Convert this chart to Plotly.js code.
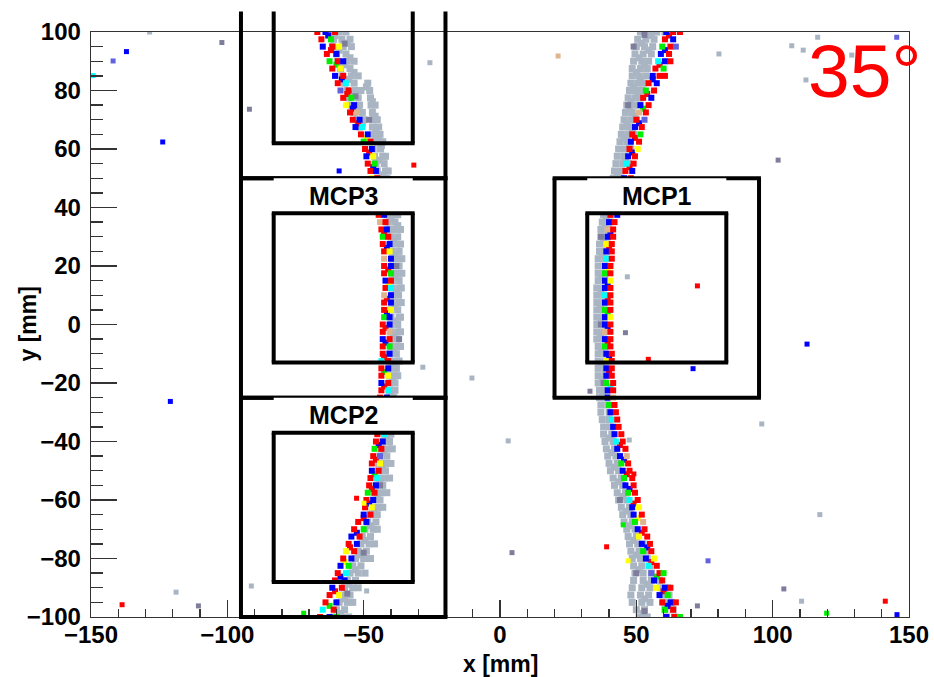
<!DOCTYPE html>
<html>
<head>
<meta charset="utf-8">
<script src="https://cdn.plot.ly/plotly-3.0.1.min.js"></script>
<style>html,body{margin:0;padding:0;background:#fff;}#chart{width:934px;height:677px;}</style>
</head>
<body>
<div id="chart"></div>
<script>
// ---------------- data ----------------
const xRange = [-150, 150];
const yRange = [-100, 100];
const xTickVals = [-150, -100, -50, 0, 50, 100, 150];
const yTickVals = [-100, -80, -60, -40, -20, 0, 20, 40, 60, 80, 100];
const angleLabel = '35°';
const xTitle = 'x [mm]';
const yTitle = 'y [mm]';

// shared y rows (mm) for the two tracks
const rowY = [100,97.5,95,92.5,90,87.5,85,82.5,80,77.5,75,72.5,70,67.5,65,62.5,60,57.5,55,52.5,50,47.5,45,42.5,40,37.5,35,32.5,30,27.5,25,22.5,20,17.5,15,12.5,10,7.5,5,2.5,0,-2.5,-5,-7.5,-10,-12.5,-15,-17.5,-20,-22.5,-25,-27.5,-30,-32.5,-35,-37.5,-40,-42.5,-45,-47.5,-50,-52.5,-55,-57.5,-60,-62.5,-65,-67.5,-70,-72.5,-75,-77.5,-80,-82.5,-85,-87.5,-90,-92.5,-95,-97.5,-100];

// left track, grey band (x per row)
const leftGrayX = [[-62,-59,-56.5],[-61,-58,-55],[-61.5,-57.5,-54.5],[-60,-56.5],[-59.5,-56,-53.5],[-58.5,-55],[-58,-54.5,-52],[-57,-53.5,-48.5],[-56,-53,-51,-47.8],[-55.5,-52,-47.5],[-54.5,-51.5,-47.3,-45.8],[-53.5,-50.5,-46.8],[-52.5,-50,-46.5,-45],[-51.5,-46.8,-44.5],[-46,-44],[-47,-44.5,-43],[-46.5,-43.8],[-46,-43,-42],[-45.5,-42.5],[-45,-42,-41],[-44.5,-41.5],[-44,-41],[-43.5,-40.5],[-43,-40],[-42.5,-39.5],[-41.5,-39,-37.5],[-41,-38.5],[-40.5,-38,-36.5],[-40,-37.5],[-40,-38,-36.5],[-39.5,-37],[-39.5,-37.5,-36],[-39.5,-37],[-39.5,-37.5,-36],[-39.5,-37],[-39.5,-37,-36.2],[-39.5,-37.2],[-39.5,-37,-36.2],[-40,-37.5],[-40,-37,-36.5],[-40,-37.5],[-40,-37.5,-36.5],[-40.2,-37.8],[-40,-37.5,-36.5],[-40.5,-38],[-40.5,-38,-37],[-40.5,-38],[-40.5,-38.5,-37.5],[-40.5,-38.5],[-40.5,-38.5],[-41,-39],[-41,-39],[-41.5,-39.5],[-41.5,-39.5],[-42,-40],[-42.5,-40],[-43,-40.5],[-43.5,-41,-39.5],[-44,-41.5],[-44.5,-42,-40],[-44.5,-42],[-45,-42.5,-40.5],[-45.5,-43],[-46,-43.5,-41.5],[-46.5,-44],[-47,-44.5,-43],[-47.5,-45],[-48.5,-45.5],[-49.5,-46.5,-45],[-50.5,-47.5],[-51,-48,-46],[-52,-49],[-53,-50,-47.5],[-54,-51],[-55,-52,-49.5],[-56,-53],[-57,-54,-52],[-58,-55],[-59,-56,-54],[-60,-57],[-61,-58,-55.5]];

// right track, grey band (x per row)
const rightGrayX = [[51.5,54.5,57.5,60.5],[50.5,53.5,56.5],[50,53,56],[49.5,52.5,55.5],[49,52,54.5],[48.5,51.5,54],[48.5,51,53.5],[48,50.5,52.5],[47.5,50,52],[47,49.5,51.5],[46.5,49,51],[46,48.5],[45.5,48,50],[45,47.5],[44.5,47,49],[44,46.5],[43.5,46,48],[43,45.5],[42.5,45,47],[42,44.5],[41.5,44],[41,43.5],[40.5,43],[40,42.5],[39,41.5],[38,40.5],[37.5,40],[37,39.5],[37,39.5],[36.5,39],[36.5,39],[36,38.5],[36,38.5],[36,38.5],[36,38.5],[35.5,38],[35.5,38],[35.5,38],[35.5,38],[35.5,38],[35.5,38],[35.5,38],[35.5,38],[36,38.5],[36,38.5],[36,38.5],[36,38.5],[36,38.5],[36,38.5],[36.5,39],[36.5,39],[37,39.5],[37,40],[37.5,40],[38,40.5],[38,41],[38.5,41.5],[39,42],[39.5,42.5],[40,43],[40.5,43.5],[41.5,44.5],[42,45],[43,46],[43.5,46.5],[44.5,47.5],[45,48],[45.5,48.5],[46.5,49.5],[47,50],[47.5,50.5,52.5],[48,51,53.5],[48.5,51.5,54],[49,52,55],[49.5,52.5,55.5],[49,52.5,55.5,58.5],[48.5,52,55,59,61.5],[48,51.5,54.5,59.5,62],[48.5,52,55,60,63],[50,53,60.5,63.5],[51,54,61,64]];

// extra grey hits between the rows
const extraGrayX = [-60.5,-56,-59,-55,-57,-53.5,-55.5,-49,-53.5,-46.8,-52,-45.8,-50.5,-45.5,-45,-43.5,-44.5,-43,-40,-37.5,-39,-38.5,-38.5,-38,-38.5,-38.5,-39,-39,-39.5,-39.5,-40,-41.5,-42.5,-43,-44,-45,-46,-47.5,-49.5,-51.5,-53,-55.5,-57,-58.5,
  55.5,52,54.5,51,53,50,51.5,49,50.5,48,47.5,49.5,46.5,48.5,45.5,47.5,46,43,39,38.5,38,37.5,37,37,36.8,36.8,36.8,37.2,37.2,37.5,37.8,40,41,42,43.5,45,46.5,47.5,49,50,51,54,53,52.5,60.5,61.5];
const extraGrayY = [98.8,96.2,93.8,91.2,88.8,86.2,83.8,81.2,78.8,76.2,73.8,71.2,68.8,66.2,63.8,61.2,56.2,51.2,36.2,33.8,28.8,23.8,16.2,11.2,6.2,1.2,-3.8,-8.8,-13.8,-18.8,-23.8,-38.8,-43.8,-48.8,-53.8,-58.8,-63.8,-68.8,-73.8,-78.8,-83.8,-88.8,-93.8,-98.8,
  98.8,96.2,93.8,91.2,88.8,86.2,83.8,81.2,78.8,76.2,73.8,71.2,68.8,66.2,63.8,61.2,56.2,51.2,36.2,33.8,28.8,23.8,16.2,11.2,6.2,1.2,-3.8,-8.8,-13.8,-18.8,-23.8,-38.8,-43.8,-48.8,-53.8,-58.8,-63.8,-68.8,-73.8,-78.8,-83.8,-88.8,-93.8,-98.8,-91.2,-96.2];

// left track, coloured hits (x per row) and their colour codes
const leftHitX = [[-67,-64,-60.5],[-65.5,-62],[-65,-61.5,-59],[-63.5,-60],[-62.5,-59.5,-57.5],[-61.5,-58.5],[-60.5,-57.5],[-59.5,-56.5],[-58.5,-55.5],[-57.5,-54.5],[-56.5,-53.5],[-55,-52.5],[-54,-51.5],[-53,-50.5],[-51,-48.5],[-50,-47.5],[-49.5,-47],[-49,-46.5],[-48.5,-46],[-47.5,-45.5],[-47,-45],[-46.5,-44.5],[-46,-44],[-45.5,-43.5],[-45,-43],[-44.5,-42.5],[-44,-42],[-43.5,-41.5],[-43,-41],[-43,-40.5],[-42.5,-40.5],[-42.5,-40],[-42.5,-40],[-42.5,-40],[-42,-40],[-42,-40],[-42.5,-40],[-42.5,-40],[-42.5,-40],[-42.5,-40.5],[-43,-40.5],[-43,-40.5],[-43,-40.5],[-43,-40.5],[-43,-40.5],[-43.5,-41],[-43.5,-41],[-43.5,-41],[-43.5,-41],[-43.5,-41],[-44,-41.5],[-44,-41.5],[-44.5,-42],[-44.5,-42],[-45,-42.5],[-45,-42.5],[-45.5,-43],[-46,-43.5],[-46.5,-44],[-47,-44],[-47,-44.5],[-47.5,-45],[-48,-45.5],[-48.5,-46],[-49,-46.5],[-49.5,-47],[-50,-47.5],[-52,-49],[-53.5,-50],[-54.5,-51.5],[-55.5,-52.5],[-56.5,-53.5],[-57.5,-54.5],[-58.5,-55.5],[-59.5,-56.5],[-60.5,-57],[-61.5,-58],[-62.5,-59],[-64,-60],[-65,-61],[-66,-62.5,-60]];
const leftHitC = ["RBR","RG","BRY","RB","GRB","RY","BR","RC","PR","RG","YB","RT","RB","BC","RB","GR","RB","BY","RG","RB","YR","BR","RB","GR","RC","RB","TR","RB","GR","RB","RY","TB","RB","RG","BR","RC","TB","RB","RY","GB","RB","RT","BR","RG","RB","CR","RB","RY","BR","RC","RB","GR","RB","RY","BR","RC","RB","GR","RP","RY","BR","RC","RB","GR","RB","RY","BR","RB","RG","BR","RB","YR","RB","BG","RC","RB","BR","RY","RB","CR","RBG"];

// right track, coloured hits (x per row) and their colour codes
const rightHitX = [[61,63.5,66],[60.5,63.5],[59.5,62.5,64.5],[59,62],[58,60.5,62.5],[57,60],[56,58.5,60.5],[54.5,57.5],[53.5,56.5],[52.5,55.5],[51.5,54.5],[51,53.5],[50,53],[49.5,52],[48.5,51.5],[48,51],[47.5,50.5],[47,49.5],[46.5,49],[46,48.5],[45.5,48],[45,47.5],[44,46.5],[43,45.5],[41.5,44],[40.5,43],[40,42],[39.5,41.5],[39.5,41.5],[39,41],[39,41],[39,41],[38.5,40.5],[38.5,40.5],[38.5,40.5],[38.5,40.5],[38.5,40.5],[38.5,40.5],[38.5,40.5],[38.5,40.5],[38.5,40.5],[38.5,40.5],[38.5,40.5],[38.5,40.5],[39,41],[39,41],[39,41],[39,41],[39,41.5],[39.5,41.5],[39.5,41.5],[40,42],[40.5,42.5],[41,43],[41.5,43.5],[42,44.5],[42.5,45],[43,46],[44,46.5],[44.5,47],[45,47.5],[45.5,48.5],[46,49],[47,49.5],[47.5,50.5],[48.5,51],[49,52],[49.5,52.5],[50.5,53],[51,54],[52,55],[52.5,55.5],[53.5,56.5],[54.5,57.5],[55.5,58.5,60],[56.5,59.5],[57.5,60.5,62.5],[58.5,61.5],[59.5,62.5,64.5],[60.5,63.5],[61,64,66]];
const rightHitC = ["BRR","RB","GRP","BR","CBR","RG","BRR","RB","GR","RB","BR","TR","RP","BR","RG","BR","RY","BR","CR","RB","BR","RG","BR","RB","BR","RB","BR","TR","BR","YR","BR","CR","BR","GR","BY","BR","CR","BR","GR","BY","BR","TR","BR","GR","BR","YR","BR","BR","GR","BR","BT","GR","BR","CR","BR","BR","CR","BR","BT","GR","BR","GR","BR","GR","CR","BY","BR","GT","BR","YR","BR","GR","BY","CR","PRG","BR","YBR","BG","RBR","GR","BRG"];

// extra coloured hits between the rows
const extraHitX = [-63,-62,-60,-58,-56,-54,-52,-49,-48,-46.5,-42.5,-41.5,-41,-41,-41.5,-41.5,-42,-42,-42.5,-42.5,-42.5,-44.5,-45.5,-46,-47,-48,-50,-52.5,-55,-57,-58.5,-60.5,-62.5,62,60.5,58.5,56,54,52.5,51,49.5,48.5,47.5,40.5,40,39.5,39.5,39.5,39.5,39.5,39.5,40,40,40.5,44,45.5,46.5,47.5,49,50.5,52,54,55.5,57.5,60,61.5];
const extraHitY = [98.8,93.8,88.8,83.8,78.8,73.8,68.8,63.8,58.8,53.8,31.2,26.2,18.8,13.8,8.8,3.8,-1.2,-6.2,-11.2,-16.2,-21.2,-41.2,-46.2,-51.2,-56.2,-61.2,-66.2,-71.2,-76.2,-81.2,-86.2,-91.2,-96.2,98.8,93.8,88.8,83.8,78.8,73.8,68.8,63.8,58.8,53.8,31.2,26.2,18.8,13.8,8.8,3.8,-1.2,-6.2,-11.2,-16.2,-21.2,-41.2,-46.2,-51.2,-56.2,-61.2,-66.2,-71.2,-76.2,-81.2,-86.2,-91.2,-96.2];
const extraHitC = "BRGBRBRYRBRBRYRBRBRGRBRGRBRBRYBRGRBRBRGBRBRBRYBRGBRBRCRBRBRYRBRGRB";

// slate-grey hits inside the bands
const bandSlateX = [-57,-53,-48,-38,-37,-39,-44,-50,-56,53,49,47,37,37,38,44,50,53];
const bandSlateY = [96,78,70,20,-5,-30,-55,-78,-92,99,95,75,30,0,-20,-60,-85,-98];

// isolated hits away from the tracks
const strayX = [-128.5,-25.7,-118.8,-91.2,-28.3,-10.3,3,46.7,47.4,96,117.3,110.6,80.3,107,111.2,116.5,129,134.8,112.2,-48.9,-102,-91.9,-110.6,4.4,102,46,33,72.4,104.1,-141.9,145.5,76.3,-137,-123.7,-120.9,-59,70.8,112.6,145.6,-138.6,-31.6,72.4,54.4,39.1,49.1,-52.6,141.3,-149.2,-72,119.8,45.2,47,-49.9,21.3];
const strayY = [100,89.5,-91.5,-89.4,-14.6,-18.3,-39.8,16.3,-39.5,-34,-65,-94.6,92.5,95.3,93.8,98.2,92.1,87.8,83.6,-91.1,96.4,73.6,-96.2,-78,56.2,-2.8,-22.8,-96.2,-90.4,90.1,98.2,-80.8,93.3,62.4,-26.3,52.5,-15.1,-6.7,-99.2,-95.8,54.5,13.2,-11.9,-76,-51.1,-59.4,-94.6,85.1,-98.7,-98.7,-68.5,-80.8,-61.1,91.8];
const strayC = "LLLLLLLLLLLLLLLLLLLLSSSSSSSSSPPPBBBBBBBRRRRRRRRCGGGYYT";

// detector outlines (mm)
const mcpName = ['MCP1', 'MCP2', 'MCP3', ''];
const mcpCX = [57.5, -57.5, -57.5, -57.5];
const mcpCY = [12.5, -62.5, 12.5, 87.5];
const outerHalf = 37.5;
const innerHalf = 25.5;
const canvasTopY = 107; // outlines run up to the canvas edge

// ---------------- styles ----------------
const colourOf = {R:'#ff0000', B:'#0000ff', G:'#00ee00', Y:'#ffff00', C:'#00ffff', T:'#e0b48c', P:'#6262e0', S:'#7e7e9c', L:'#a9b5c2'};
const FONT = 'Liberation Sans, Arial, sans-serif';

// ---------------- build ----------------
function flatRows(rowsX, codes) {
  const xs = [], ys = [], cs = [];
  rowsX.forEach((row, i) => row.forEach((x, j) => {
    xs.push(x); ys.push(rowY[i]);
    cs.push(codes ? colourOf[codes[i][j]] : null);
  }));
  return {xs, ys, cs};
}
const lg = flatRows(leftGrayX), rg = flatRows(rightGrayX);
const lh = flatRows(leftHitX, leftHitC), rh = flatRows(rightHitX, rightHitC);
const codeColours = s => s.split('').map(c => colourOf[c]);

const traces = [
  {type:'scatter', mode:'markers', x:lg.xs.concat(rg.xs, extraGrayX), y:lg.ys.concat(rg.ys, extraGrayY),
   marker:{symbol:'square', size:7, color:colourOf.L}, hoverinfo:'skip'},
  {type:'scatter', mode:'markers', x:bandSlateX, y:bandSlateY,
   marker:{symbol:'square', size:6, color:colourOf.S}, hoverinfo:'skip'},
  {type:'scatter', mode:'markers', x:extraHitX, y:extraHitY,
   marker:{symbol:'square', size:6, color:codeColours(extraHitC)}, hoverinfo:'skip'},
  {type:'scatter', mode:'markers', x:lh.xs.concat(rh.xs), y:lh.ys.concat(rh.ys),
   marker:{symbol:'square', size:6, color:lh.cs.concat(rh.cs)}, hoverinfo:'skip'},
  {type:'scatter', mode:'markers', x:strayX, y:strayY,
   marker:{symbol:'square', size:5, color:codeColours(strayC)}, hoverinfo:'skip'}
];

function py(y) { return (y - yRange[0]) / (yRange[1] - yRange[0]); }
function lineShape(x0, y0, x1, y1, w) {
  return {type:'line', xref:'x', yref:'paper', x0:x0, x1:x1, y0:py(y0), y1:py(y1),
          line:{color:'#000', width:w}, layer:'above'};
}
function boxEdges(cx, cy, h) {
  const out = [];
  const lo = Math.max(cy - h, yRange[0]);
  const hi = Math.min(cy + h, canvasTopY);
  out.push(lineShape(cx - h, lo, cx - h, hi, 4));
  out.push(lineShape(cx + h, lo, cx + h, hi, 4));
  if (cy - h >= yRange[0]) out.push(lineShape(cx - h - 0.7, cy - h, cx + h + 0.7, cy - h, 4));
  if (cy + h <= canvasTopY) out.push(lineShape(cx - h - 0.7, cy + h, cx + h + 0.7, cy + h, 4));
  return out;
}
let shapes = [];
mcpCX.forEach((cx, i) => { shapes = shapes.concat(boxEdges(cx, mcpCY[i], outerHalf)); });
mcpCX.forEach((cx, i) => {
  if (!mcpName[i]) return;
  shapes.push({type:'rect', xref:'x', yref:'paper', x0:cx - innerHalf, x1:cx + innerHalf,
               y0:py(mcpCY[i] + innerHalf), y1:py(mcpCY[i] + outerHalf),
               fillcolor:'#fff', line:{width:0}, layer:'above'});
});
mcpCX.forEach((cx, i) => { shapes = shapes.concat(boxEdges(cx, mcpCY[i], innerHalf)); });

const boldFont = {family:FONT, size:25, color:'#000', weight:'bold'};
const titleFont = {family:FONT, size:23, color:'#000', weight:'bold'};
const tickFont = {family:FONT, size:24, color:'#000', weight:'bold'};
const annotations = mcpName.map((n, i) => n ? {
  text:n, x:mcpCX[i], y:mcpCY[i] + (innerHalf + outerHalf) / 2, xref:'x', yref:'y',
  showarrow:false, font:boldFont
} : null).filter(a => a);
annotations.push({text:angleLabel, xref:'paper', yref:'paper', x:1.0175, y:0.9325,
  xanchor:'right', yanchor:'middle', showarrow:false,
  font:{family:FONT, size:75, color:'#ff0000'}});
// axis titles
annotations.push({text:xTitle, xref:'paper', yref:'paper', x:0.5, y:-0.0803,
  xanchor:'center', yanchor:'middle', showarrow:false, font:titleFont});
annotations.push({text:yTitle, xref:'paper', yref:'paper', x:-0.0782, y:0.5,
  xanchor:'center', yanchor:'middle', textangle:-90, showarrow:false, font:titleFont});

const axisCommon = {
  ticks:'inside', tickwidth:1.3, tickcolor:'#333', showline:true, linecolor:'#333',
  linewidth:1.3, mirror:true, showgrid:false, zeroline:false, tickfont:tickFont,
  fixedrange:true
};
const layout = {
  width:934, height:677,
  margin:{l:91, r:25, t:32, b:60},
  paper_bgcolor:'#fff', plot_bgcolor:'#fff',
  showlegend:false,
  xaxis:Object.assign({}, axisCommon, {
    range:xRange, tickvals:xTickVals, ticklen:17, ticklabelstandoff:-4,
    minor:{dtick:10, ticks:'inside', ticklen:8, tickwidth:1.3, tickcolor:'#333', showgrid:false}
  }),
  yaxis:Object.assign({}, axisCommon, {
    range:yRange, tickvals:yTickVals, ticklen:26, ticklabelstandoff:4,
    minor:{dtick:5, ticks:'inside', ticklen:12, tickwidth:1.3, tickcolor:'#333', showgrid:false}
  }),
  shapes:shapes,
  annotations:annotations
};
Plotly.newPlot('chart', traces, layout, {displayModeBar:false, staticPlot:true});
</script>
</body>
</html>
